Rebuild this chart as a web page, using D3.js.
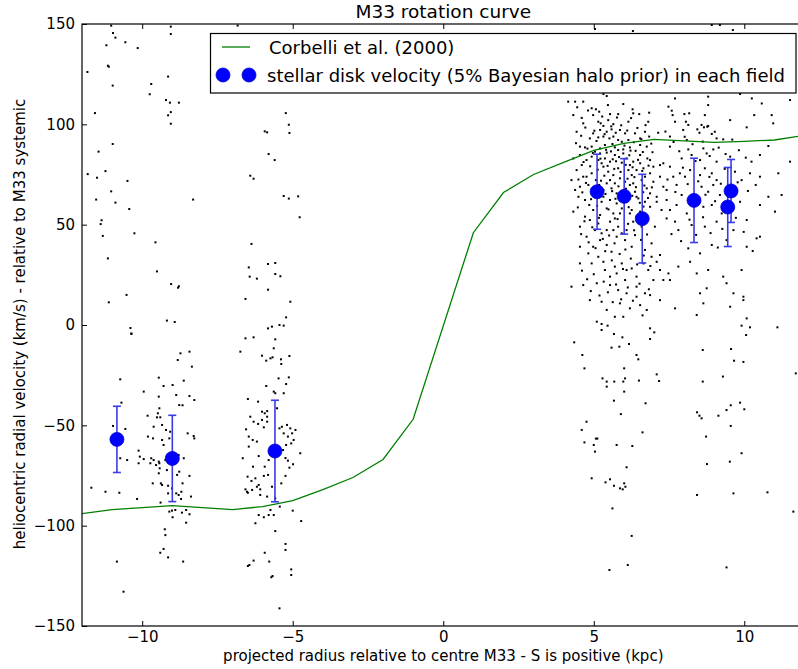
<!DOCTYPE html>
<html>
<head>
<meta charset="utf-8">
<script src="https://cdn.jsdelivr.net/npm/d3@7"></script>
<style>
  html, body { margin: 0; padding: 0; background: #fff; }
  svg { display: block; }
  text { font-family: "DejaVu Sans", sans-serif; fill: #000; }
</style>
</head>
<body>
<svg id="chart" width="798" height="669"></svg>
<script>
// ---------------- DATA ----------------
const xTicks = [-10, -5, 0, 5, 10];
const yTicks = [-150, -100, -50, 0, 50, 100, 150];

// Corbelli et al. (2000) rotation curve (kpc, km/s)
const curveR = [-12, -11, -9, -7, -6, -5, -4, -3, -2, -1, 1, 2, 3, 4, 5, 6, 7, 8, 9, 10, 11, 12];
const curveV = [-94, -92, -90, -92, -90.5, -87.5, -82, -76, -67, -47, 46, 66, 75, 81, 87, 90.5, 92.5, 91.8, 91, 91.5, 92.2, 94.5];

// stellar disk velocity in each field
const fieldR   = [-10.84, -9.0, -5.59, 5.11, 6.01, 6.61, 8.33, 9.45, 9.56];
const fieldV   = [-57, -66.5, -62.8, 66.4, 64.1, 53, 62.1, 58.8, 66.8];
const fieldErr = [16.5, 21.5, 25.3, 18.7, 18.8, 22.1, 21.0, 19.7, 15.7];

// individual stars, negative-radius fields [r, v]
const starsWest = [
[-11.03,149.2],[-10.97,145.5],[-10.89,143.2],[-11.19,139.4],[-10.56,140.9],[-10.15,138.0],[-9.05,148.7],[-9.05,145.0],[-6.83,149.2],
[-11.82,126.1],[-11.14,129.2],[-11.11,128.7],[-10.98,119.3],[-9.70,120.1],[-9.75,115.0],[-9.14,123.8],[-9.21,112.1],[-9.08,110.8],[-8.78,110.8],
[-9.05,106.1],[-9.14,104.5],[-9.05,100.3],[-11.57,105.6],[-5.23,105.6],[-5.13,99.8],[-5.11,95.7],[-5.93,96.5],[-5.85,96.0],
[-10.98,90.2],[-11.45,86.4],[-5.80,85.2],[-5.60,82.2],[-11.81,75.2],[-11.50,73.4],[-11.22,76.7],[-10.49,71.8],[-6.41,74.4],[-6.30,72.9],
[-11.03,66.6],[-11.53,62.5],[-10.89,61.0],[-8.31,62.5],[-10.43,57.8],[-5.30,64.3],[-5.13,63.0],[-4.82,64.1],[-4.77,53.7],
[-11.35,52.2],[-11.38,50.3],[-11.31,44.4],[-10.26,45.7],[-9.56,41.2],[-6.37,40.4],[-11.14,33.2],[-9.51,26.7],[-6.46,28.7],[-6.43,24.1],
[-6.19,23.1],[-5.82,30.4],[-5.58,30.9],[-5.58,25.4],[-5.41,24.3],[-9.04,20.4],[-8.78,19.3],[-8.81,18.6],[-10.52,15.0],[-11.11,11.3],
[-6.57,13.0],[-5.82,17.6],[-5.08,11.6],[-9.18,2.2],[-8.92,1.5],[-10.39,-1.5],[-10.36,-4.2],[-5.82,-1.7],[-5.69,-0.8],[-5.44,0.0],[-5.30,-0.3],[-5.22,3.8],
[-10.36,-4.48],[-6.57,-6.64],[-6.30,-6.14],[-5.58,-7.14],[-6.74,-13.29],[-5.63,-11.62],[-6.02,-15.28],[-5.88,-17.77],[-5.74,-16.61],[-5.67,-16.11],
[-5.39,-17.11],[-5.11,-15.45],[-8.73,-14.12],[-8.43,-13.29],[-8.82,-17.44],[-8.35,-20.76],[-5.38,-19.43],[-10.73,-27.07],[-9.45,-26.24],[-8.62,-27.74],
[-8.99,-29.9],[-9.29,-30.4],[-5.88,-30.4],[-5.22,-29.4],[-5.47,-26.6],[-5.13,-26.1],[-5.63,-33.2],[-5.58,-34.0],[-5.30,-34.0],[-9.95,-33.2],
[-8.87,-34.9],[-9.45,-35.7],[-8.43,-35.4],[-8.27,-37.4],[-6.49,-36.9],[-6.15,-38.2],[-8.77,-39.9],[-8.66,-40.0],[-10.69,-38.7],[-9.43,-41.5],
[-9.48,-44.0],[-5.85,-42.9],[-6.02,-43.2],[-5.93,-44.0],[-5.52,-41.5],[-6.41,-45.7],[-6.30,-48.2],[-5.85,-45.7],[-6.02,-47.3],[-5.85,-48.2],
[-6.15,-49.3],[-5.96,-51.0],[-5.36,-50.7],[-5.19,-49.8],[-5.44,-51.5],[-5.08,-51.5],[-9.82,-45.2],[-9.62,-50.7],[-9.51,-46.0],[-9.40,-46.0],
[-9.34,-49.8],[-9.21,-52.3],[-9.81,-55.6],[-9.64,-56.5],[-9.34,-57.3],[-9.10,-56.5],[-9.07,-53.2],[-8.49,-54.0],[-8.29,-55.3],[-8.27,-56.5],
[-10.97,-50.3],[-10.56,-51.8],[-6.55,-52.0],[-6.46,-55.6],[-6.33,-57.3],[-5.30,-54.0],[-5.16,-55.6],[-5.02,-54.0],[-4.91,-52.3],[-4.97,-57.3],
[-5.05,-59.0],[-5.32,-62.3],[-5.22,-59.8],[-6.46,-60.6],[-6.19,-58.1],[-5.24,-66.3],[-10.73,-66.4],[-10.50,-67.3],[-10.12,-62.6],[-10.08,-65.6],
[-9.95,-66.8],[-9.70,-66.4],[-9.62,-67.3],[-9.54,-69.8],[-9.45,-68.1],[-9.43,-68.9],[-9.23,-67.3],[-9.29,-59.8],[-9.15,-64.4],[-9.10,-67.3],
[-8.79,-64.8],[-8.62,-66.4],[-6.66,-66.4],[-6.13,-65.3],[-5.80,-67.3],[-5.16,-67.6],[-5.11,-71.1],[-4.99,-69.4],[-4.75,-63.9],[-6.32,-70.6],
[-5.93,-70.6],[-6.24,-76.4],[-6.13,-79.7],[-6.08,-81.9],[-5.96,-75.2],[-5.82,-74.7],[-6.50,-75.6],[-6.37,-77.7],[-10.12,-68.9],[-9.73,-68.9],
[-9.42,-71.4],[-9.45,-73.9],[-9.18,-72.3],[-8.77,-73.1],[-8.84,-74.7],[-8.43,-75.2],[-8.66,-78.9],[-9.65,-78.9],[-9.38,-78.9],[-9.34,-79.7],
[-9.14,-80.1],[-9.01,-81.4],[-5.24,-75.2],[-5.69,-80.6],[-5.38,-78.9],[-6.57,-81.9],[-6.52,-83.1],[-6.49,-83.6],[-6.35,-82.2],[-6.19,-80.6],
[-6.08,-84.7],[-5.85,-85.5],[-11.69,-81.1],[-11.22,-83.1],[-10.76,-83.6],[-10.17,-86.7],[-9.14,-83.9],[-8.87,-83.9],[-8.79,-84.7],[-8.70,-83.1],
[-8.38,-85.5],[-9.39,-88.5],[-8.71,-86.7],[-5.58,-86.4],[-5.43,-90.5],[-5.00,-92.5],[-5.74,-92.2],[-5.80,-94.7],[-5.63,-94.7],[-6.13,-94.7],
[-5.96,-95.8],[-6.24,-98.8],[-9.10,-93.0],[-9.01,-92.5],[-8.90,-92.2],[-8.68,-93.5],[-8.54,-92.2],[-8.43,-94.3],[-8.99,-95.8],[-8.54,-98.5],
[-4.72,-97.7],[-9.25,-101.8],[-9.23,-104.7],[-9.29,-111.6],[-9.40,-113.5],[-9.14,-115.8],[-8.64,-117.9],[-10.84,-117.9],[-10.62,-132.9],
[-5.58,-102.7],[-5.24,-109.1],[-5.24,-112.1],[-5.93,-113.5],[-5.78,-117.9],[-5.05,-121.8],[-6.30,-117.4],[-6.49,-120.1],[-6.44,-119.6],
[-5.71,-125.7],[-5.67,-125.1],[-5.05,-124.6],[-5.44,-141.2]
];

// individual stars, positive-radius fields [r, v]
const starsEast = [
[5.04,147.5],[6.30,146.5],[8.92,149.5],[9.19,149.5],[9.62,147.0],
[4.15,111.3],[4.38,111.3],[4.65,111.3],[5.32,115.1],[5.43,114.1],[5.98,110.1],[7.70,112.9],[8.80,113.8],[8.80,109.6],[9.86,115.1],[10.25,112.9],
[10.58,110.4],[11.52,112.1],[4.32,104.6],[4.93,108.0],[5.07,107.5],[5.18,106.3],[4.98,104.6],[5.54,105.1],[5.81,105.1],[6.29,107.5],[6.31,105.5],
[6.51,105.1],[6.84,105.8],[7.48,108.8],[7.59,106.8],[7.62,104.6],[8.01,105.1],[8.17,105.5],[8.69,104.6],[10.33,104.6],[10.91,104.6],
[4.65,100.5],[5.15,101.3],[5.23,100.5],[5.32,99.2],[5.48,102.1],[5.65,100.1],[6.15,101.3],[6.81,101.3],[7.70,101.3],[8.06,101.3],[8.14,99.7],
[8.58,99.7],[8.80,99.2],[9.53,102.1],[10.96,100.5],[4.43,96.3],[4.98,95.5],[5.21,97.2],[5.43,96.3],[5.59,97.5],[5.87,97.2],[6.04,95.5],
[6.37,95.5],[6.70,96.3],[7.14,95.8],[7.97,97.2],[8.44,97.5],[8.51,95.8],[8.66,98.5],[8.77,98.8],[8.92,95.2],[10.08,98.5],[4.87,93.0],
[5.15,93.5],[5.32,93.9],[5.52,93.0],[5.65,93.9],[5.81,92.2],[5.93,91.3],[6.15,92.2],[6.54,93.0],[6.84,93.9],[7.53,93.9],[8.09,92.2],[9.08,93.0],
[9.30,92.5],[4.54,88.9],[4.71,88.5],[4.93,88.9],[5.21,88.0],[5.37,89.7],[5.70,88.5],[5.98,87.5],[6.20,88.5],[6.54,89.7],[6.76,88.9],[7.53,88.9],
[8.14,87.5],[8.64,88.0],[8.97,87.5],[10.80,89.2],
[4.32,83.0],[4.54,84.7],[4.76,82.2],[4.93,83.9],[5.21,85.5],[5.37,83.0],[5.54,81.4],[5.70,84.7],[5.81,87.2],[6.09,83.0],[6.31,81.4],[6.54,84.7],
[6.87,82.2],[7.31,80.6],[7.92,83.0],[8.25,84.7],[8.53,82.2],[8.75,85.5],[9.08,81.4],[9.53,83.9],[10.24,81.4],[10.52,84.7],[4.43,77.2],[4.60,79.7],
[4.76,73.9],[5.32,78.9],[5.48,76.4],[5.65,74.7],[5.81,78.1],[6.20,79.7],[6.42,77.2],[6.70,73.9],[6.98,78.9],[7.20,79.7],[7.86,75.6],[8.03,73.9],
[8.20,77.2],[8.53,74.7],[8.69,78.1],[8.92,75.6],[9.08,72.2],[9.69,76.4],[9.91,72.2],[10.19,75.6],[10.52,73.9],[11.13,75.6],[4.26,72.2],[4.54,68.9],
[4.82,69.8],[5.43,70.6],[5.59,68.1],[5.76,65.6],[6.20,69.8],[6.37,66.4],[6.76,68.1],[6.87,65.6],[7.09,63.9],[7.42,67.3],[7.75,69.8],[7.92,64.8],
[8.58,68.9],[8.80,66.4],[8.97,69.8],[9.19,64.8],[9.75,67.3],[10.80,63.9],[11.24,64.8],[11.52,81.4],[4.32,56.5],[4.71,62.3],[5.26,61.4],[5.43,58.1],
[5.65,55.6],[6.09,61.4],[6.26,57.3],[6.42,54.0],[6.87,58.9],[7.09,61.4],[7.53,57.3],[7.75,59.8],[8.09,55.6],[8.64,58.9],[8.92,59.8],[9.25,55.6],
[9.86,61.4],[10.52,59.8],[11.02,56.5],[4.54,49.0],[4.71,54.0],[5.15,50.6],[5.43,47.3],[5.54,51.5],[5.81,49.0],[6.09,47.3],[6.31,51.5],[6.76,52.3],
[7.03,49.0],[7.42,53.1],[7.70,51.5],[7.81,47.3],[8.25,49.8],[8.69,49.0],[9.08,51.5],[9.64,47.3],[10.08,52.3],[10.52,44.0],[4.76,44.0],[4.98,39.0],
[5.21,42.3],[5.43,39.9],[5.59,36.5],[5.76,44.0],[6.04,42.3],[6.26,39.0],[6.70,37.4],[6.92,40.7],[7.20,34.9],[8.14,38.2],[8.53,35.7],[8.92,39.9],
[9.41,42.3],[10.08,39.0],[10.41,43.2],[4.54,30.7],[4.93,30.7],[5.32,31.5],[5.70,29.1],[5.93,30.7],[6.09,27.4],[6.65,30.7],[6.92,34.0],[7.09,31.5],
[7.48,25.7],[7.81,29.1],[8.20,31.5],[8.42,25.7],[8.80,27.4],[9.30,24.1],[9.91,27.4],[4.26,19.1],[4.65,19.9],[5.10,20.8],[5.54,19.9],[5.81,17.4],
[6.09,15.8],[6.42,19.1],[6.70,15.8],[6.87,14.9],[7.31,22.4],[7.53,22.4],[8.53,15.8],[8.75,18.3],[9.41,20.8],[9.64,15.8],[9.97,14.1],[5.26,11.6],
[5.87,10.8],[6.20,8.3],[6.54,9.9],[6.76,7.5],[7.20,12.4],[7.70,8.3],[8.42,5.0],[8.64,10.8],[9.53,9.1],[9.97,12.4],[5.70,4.1],[10.08,3.3],
[5.04,86.4],[5.15,82.2],[5.26,80.6],[5.43,85.9],[5.63,82.6],[5.93,80.9],[5.98,85.5],[6.15,77.2],[6.26,74.7],[6.54,80.6],[6.65,78.1],[6.78,83.0],
[5.07,72.2],[5.18,69.8],[5.32,67.3],[5.54,72.2],[5.70,70.6],[5.87,73.1],[6.04,71.4],[6.15,65.6],[6.31,70.6],[6.48,63.1],[6.59,72.2],[6.65,59.0],
[5.12,64.8],[5.32,63.9],[5.54,62.3],[5.76,60.6],[5.93,58.1],[4.98,57.3],[5.21,54.8],[5.70,53.1],[5.87,55.6],[6.54,56.5],[6.70,61.4],[4.87,52.3],
[5.04,47.3],[5.26,45.7],[5.65,47.3],[5.93,45.7],[6.37,44.8],[6.59,49.0],[4.93,75.6],[4.65,73.9],[4.49,63.9],[4.38,67.3],[4.85,59.8],[4.98,65.6],
[6.20,55.6],[6.42,63.9],[6.87,75.6],[6.98,71.4],[7.20,73.9],[7.31,68.9],[7.53,78.9],[7.64,73.9],[7.42,62.3],[7.25,57.3],[4.54,39.0],[4.82,35.7],
[5.15,34.0],[5.37,27.4],[5.54,24.1],[5.76,25.7],[6.04,22.4],[6.26,28.2],[6.42,24.1],[6.81,27.4],[6.98,22.4],[7.20,27.4],[4.87,12.4],[5.43,7.5],
[5.98,4.1],[6.42,14.1],
[4.45,108.5],[4.6,103.2],[4.72,98.4],[4.81,106.9],[5.02,96.8],[5.09,91.7],[5.28,103.9],[5.36,95.1],[5.41,87.3],[5.47,109.6],[5.58,99.0],[5.62,90.2],
[5.73,95.8],[5.77,103.4],[5.84,83.7],[5.91,99.5],[6.02,89.4],[6.11,96.9],[6.18,84.6],[6.24,103.1],[6.33,91.1],[6.39,86.8],[6.45,98.2],[6.58,92.6],
[6.63,86.2],[6.72,99.6],[6.91,90.4],[6.95,86.1],[4.41,90.6],[4.58,94.3],[4.66,81.2],[4.79,87.9],[4.88,79.1],[4.97,85.7],[5.13,77.4],[5.22,82.9],
[5.35,74.4],[5.46,79.3],[5.57,86.5],[5.68,77.8],[5.74,81.6],[5.89,76.3],[6.06,79.8],[6.12,72.9],[6.22,86.9],[6.29,78.6],[6.35,73.7],[6.47,82.3],
[6.61,76.8],[6.68,69.5],[6.82,79.4],[4.49,72.5],[4.62,66.1],[4.74,70.8],[4.91,62.7],[5.03,68.4],[5.11,59.4],[5.24,71.9],[5.39,65.3],[5.49,57.6],
[5.61,66.7],[5.72,62.9],[5.82,69.1],[5.95,63.7],[6.07,67.9],[6.16,58.7],[6.28,64.4],[6.40,68.7],[6.53,60.9],[6.64,66.2],[6.80,63.3],[6.93,68.6],
[4.47,58.6],[4.58,45.3],[4.69,51.7],[4.83,41.2],[4.95,48.7],[5.06,38.3],[5.17,53.4],[5.30,42.9],[5.38,36.8],[5.51,44.6],[5.60,32.2],[5.69,40.7],
[5.79,52.8],[5.86,35.4],[5.97,27.9],[6.05,37.6],[6.14,50.4],[6.23,33.1],[6.34,47.2],[6.44,30.2],[6.57,42.4],[6.66,34.6],[6.77,45.1],[6.88,29.4],
[4.61,27.1],[4.78,22.8],[4.90,16.9],[5.00,25.3],[5.19,14.7],[5.33,21.6],[5.47,16.3],[5.63,11.4],[5.74,20.2],[5.91,12.8],[6.13,18.7],[6.30,12.1],
[6.52,20.6],[6.62,4.8],[6.83,17.8],
[7.38,96.4],[7.65,91.2],[7.84,86.6],[8.02,93.8],[8.28,90.1],[8.38,81.7],[8.62,91.4],[8.85,84.2],[9.02,96.3],[9.15,88.4],[9.38,85.2],[9.60,92.4],
[9.82,87.1],[10.05,83.4],[7.45,72.5],[7.71,66.3],[7.96,78.4],[8.12,70.2],[8.35,62.8],[8.47,71.6],[8.71,64.9],[8.84,73.8],[9.03,61.7],[9.22,70.4],
[9.35,77.8],[9.50,65.6],[9.78,71.1],[10.12,66.8],[10.38,69.8],[7.58,45.3],[7.90,41.8],[8.18,52.5],[8.40,44.9],[8.63,53.7],[8.88,45.8],[9.12,38.6],
[9.27,47.9],[9.72,53.4],[9.98,46.4],[10.28,36.9],
[5.10,1.66],[5.26,0.50],[5.46,-0.33],[5.26,-2.49],[5.67,-4.49],[5.95,-6.15],[5.59,-11.30],[5.85,-10.80],[6.17,-9.47],[6.87,-1.66],[7.01,-3.66],
[6.87,-6.98],[4.35,-8.64],[4.62,-14.95],[6.42,-14.95],[6.48,-17.11],[4.69,-21.6],[6.01,-21.6],[5.29,-26.6],[5.43,-28.2],[5.68,-28.2],[5.98,-28.2],
[6.04,-26.6],[6.50,-27.7],[7.09,-24.6],[7.17,-27.9],[5.43,-30.7],[6.01,-33.2],[5.67,-37.7],[6.72,-39.0],[5.90,-44.4],[4.76,-48.2],[4.60,-52.3],
[5.07,-56.6],[5.12,-56.6],[4.69,-58.5],[5.00,-59.8],[5.04,-63.1],[5.76,-59.8],[6.28,-60.3],[6.62,-53.5],[6.09,-70.9],[4.93,-76.4],[5.39,-78.4],
[5.54,-76.9],[5.67,-80.1],[5.87,-81.4],[5.96,-81.9],[6.01,-78.9],[6.05,-80.6],[5.62,-91.4],[6.26,-105.1],[6.13,-119.6],[5.52,-122.1],
[9.91,-0.33],[10.19,-1.16],[10.06,-4.99],[11.10,-1.16],[9.56,-11.96],[8.62,-12.46],[9.66,-17.8],[9.97,-18.4],[9.29,-25.7],[8.62,-28.2],[11.71,-24.1],
[8.43,-43.5],[8.51,-45.2],[8.58,-46.5],[9.14,-45.2],[9.41,-42.4],[9.55,-40.0],[9.86,-38.7],[10.00,-42.0],[9.55,-50.3],[8.73,-55.6],[9.91,-63.9],
[8.76,-69.3],[9.52,-68.1],[8.43,-84.7],[9.64,-83.9],[10.77,-83.4],[11.63,-93.0],[9.41,-120.8]
];

// ---------------- CHART ----------------
const svg = d3.select("#chart");
const x = d3.scaleLinear().domain([-12, 12]).range([82, 804.5]);
const y = d3.scaleLinear().domain([-150, 150]).range([626, 24]);

svg.append("defs").append("clipPath").attr("id", "plotclip")
  .append("rect").attr("x", 82).attr("y", 24).attr("width", 722.5).attr("height", 602);

const plot = svg.append("g").attr("clip-path", "url(#plotclip)");

// stars
const stars = starsWest.concat(starsEast);
plot.append("g").selectAll("rect").data(stars).join("rect")
  .attr("x", d => x(d[0]) - 1).attr("y", d => y(d[1]) - 1)
  .attr("width", 2).attr("height", 2).attr("fill", "#000");

// rotation curve
const curve = curveR.map((r, i) => [r, curveV[i]]);
plot.append("path").datum(curve)
  .attr("fill", "none").attr("stroke", "#008000").attr("stroke-width", 1.3)
  .attr("d", d3.line().x(d => x(d[0])).y(d => y(d[1])));

// error bars
const fields = fieldR.map((r, i) => ({ r, v: fieldV[i], e: fieldErr[i] }));
const eb = plot.append("g").attr("stroke", "#3b3be6").attr("stroke-width", 1.6);
eb.selectAll("line.v").data(fields).join("line").attr("class", "v")
  .attr("x1", d => x(d.r)).attr("x2", d => x(d.r))
  .attr("y1", d => y(d.v - d.e)).attr("y2", d => y(d.v + d.e));
eb.selectAll("line.t").data(fields).join("line").attr("class", "t")
  .attr("x1", d => x(d.r) - 4).attr("x2", d => x(d.r) + 4)
  .attr("y1", d => y(d.v + d.e)).attr("y2", d => y(d.v + d.e));
eb.selectAll("line.b").data(fields).join("line").attr("class", "b")
  .attr("x1", d => x(d.r) - 4).attr("x2", d => x(d.r) + 4)
  .attr("y1", d => y(d.v - d.e)).attr("y2", d => y(d.v - d.e));

// markers
plot.append("g").selectAll("circle").data(fields).join("circle")
  .attr("cx", d => x(d.r)).attr("cy", d => y(d.v)).attr("r", 7)
  .attr("fill", "#0000ff").attr("stroke", "#0000cc").attr("stroke-width", 0.8);

// axes (inward ticks)
const fmt = d => d < 0 ? "\u2212" + Math.abs(d) : String(d);
const axB = svg.append("g").attr("transform", "translate(0,626)")
  .call(d3.axisBottom(x).tickValues(xTicks).tickSize(-5).tickPadding(5).tickFormat(fmt));
const axT = svg.append("g").attr("transform", "translate(0,24)")
  .call(d3.axisTop(x).tickValues(xTicks).tickSize(-5).tickFormat(""));
const axL = svg.append("g").attr("transform", "translate(82,0)")
  .call(d3.axisLeft(y).tickValues(yTicks).tickSize(-5).tickPadding(7).tickFormat(fmt));
const axR = svg.append("g").attr("transform", "translate(804.5,0)")
  .call(d3.axisRight(y).tickValues(yTicks).tickSize(-5).tickFormat(""));
[axB, axT, axL, axR].forEach(a => {
  a.select(".domain").remove();
  a.selectAll("line").attr("stroke", "#000").attr("stroke-width", 1);
  a.selectAll("text").attr("font-family", "DejaVu Sans").attr("font-size", 15).attr("fill", "#000");
});

// frame
svg.append("rect").attr("x", 82).attr("y", 24).attr("width", 722.5).attr("height", 602)
  .attr("fill", "none").attr("stroke", "#000").attr("stroke-width", 1.2);

// titles
svg.append("text").attr("x", 443.3).attr("y", 18).attr("text-anchor", "middle")
  .attr("font-size", 18.5).text("M33 rotation curve");
svg.append("text").attr("x", 443.3).attr("y", 661).attr("text-anchor", "middle")
  .attr("font-size", 15).text("projected radius relative to centre M33 - S is positive (kpc)");
svg.append("text").attr("transform", "translate(25,324) rotate(-90)").attr("text-anchor", "middle")
  .attr("font-size", 15).text("heliocentric radial velocity (km/s) - relative to M33 systemic");

// legend
const lg = svg.append("g");
lg.append("rect").attr("x", 210.5).attr("y", 33.5).attr("width", 585.5).attr("height", 59.5)
  .attr("fill", "#fff").attr("stroke", "#000").attr("stroke-width", 1.2);
lg.append("line").attr("x1", 222).attr("x2", 250).attr("y1", 47).attr("y2", 47)
  .attr("stroke", "#008000").attr("stroke-width", 1.3);
lg.append("text").attr("x", 269).attr("y", 53.5).attr("font-size", 18).text("Corbelli et al. (2000)");
[223, 249].forEach(cx => lg.append("circle").attr("cx", cx).attr("cy", 75).attr("r", 7)
  .attr("fill", "#0000ff").attr("stroke", "#0000cc").attr("stroke-width", 0.8));
lg.append("text").attr("x", 267).attr("y", 81.5).attr("font-size", 18)
  .text("stellar disk velocity (5% Bayesian halo prior) in each field");
</script>
</body>
</html>
